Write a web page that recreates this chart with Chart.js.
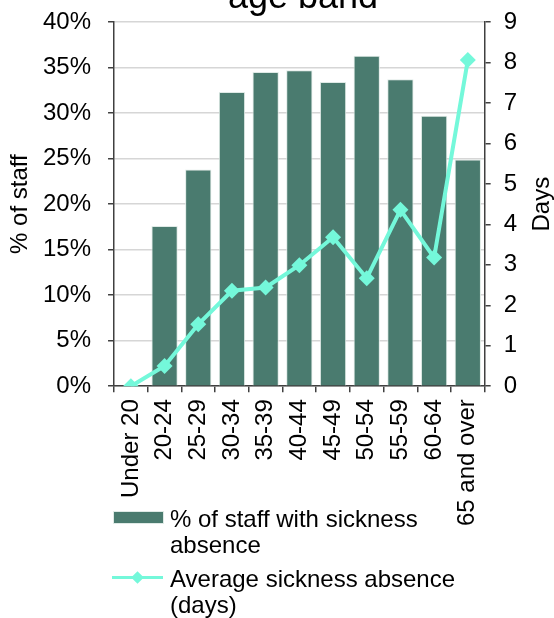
<!DOCTYPE html>
<html>
<head>
<meta charset="utf-8">
<script src="https://cdn.jsdelivr.net/npm/chart.js@4/dist/chart.umd.min.js"></script>
<style>
  body { margin: 0; background: #fff; }
  #wrap { position: relative; width: 554px; height: 618px; overflow: hidden; }
  #legend { position: absolute; left: 0; top: 0; font-family: "Liberation Sans", Arial, sans-serif; font-size: 24px; color: #000; }
  .item { position: absolute; left: 170px; line-height: 26px; white-space: nowrap; }
  .box { position: absolute; left: 113px; width: 49px; height: 11px; background: #4a7b6f; border: 1px solid #dfeae6; }
  .lin { position: absolute; left: 112px; width: 51px; height: 3px; background: #74f8da; }
  .dia { position: absolute; width: 9px; height: 9px; background: #74f8da; transform: rotate(45deg); }
</style>
</head>
<body>
<div id="wrap">
  <canvas id="chart" width="554" height="618"></canvas>
  <div id="legend">
    <div class="box" style="top:511px"></div>
    <div class="item" style="top:506px">% of staff with sickness<br>absence</div>
    <div class="lin" style="top:576px"></div>
    <div class="dia" style="left:133px; top:573px"></div>
    <div class="item" style="top:566px">Average sickness absence<br>(days)</div>
  </div>
</div>
<script>
const ageBands = ["Under 20", "20-24", "25-29", "30-34", "35-39", "40-44", "45-49", "50-54", "55-59", "60-64", "65 and over"];
const pctStaff = [0, 17.6, 23.8, 32.3, 34.5, 34.7, 33.4, 36.3, 33.7, 29.7, 24.9];
const avgDays = [0, 0.5, 1.53, 2.36, 2.44, 2.99, 3.68, 2.67, 4.36, 3.18, 8.06];
const leftTicks = [0, 5, 10, 15, 20, 25, 30, 35, 40];
const rightTicks = [0, 1, 2, 3, 4, 5, 6, 7, 8, 9];

const FONT = "Liberation Sans, Arial, sans-serif";
const AXIS = "#404040";

// title (cut off at the top) and the two axis titles
let extraText = {
    id: 'extraText',
    afterDraw(c) {
        let ctx = c.ctx;
        let a = c.chartArea;
        ctx.save();
        ctx.fillStyle = "#000";
        ctx.textAlign = "center";
        ctx.textBaseline = "alphabetic";
        ctx.font = "36px " + FONT;
        ctx.fillText("age band", 303, 8);

        ctx.font = "24px " + FONT;
        ctx.textBaseline = "middle";
        let mid = (a.top + a.bottom) / 2;
        ctx.save();
        ctx.translate(20, mid);
        ctx.rotate(-Math.PI / 2);
        ctx.fillText("% of staff", 0, 0);
        ctx.restore();
        ctx.save();
        ctx.translate(542, mid);
        ctx.rotate(-Math.PI / 2);
        ctx.fillText("Days", 0, 0);
        ctx.restore();
        ctx.restore();
    }
};

// let the top tick labels hang above the plot like the original
let noEdgePad = s => { s.paddingTop = 0; s.paddingBottom = 0; };

let chart = new Chart('chart', {
    type: 'bar',
    data: {
        labels: ageBands,
        datasets: [{
            type: 'line',
            label: "Average sickness absence (days)",
            data: avgDays,
            yAxisID: 'y1',
            borderColor: "#74f8da",
            backgroundColor: "#74f8da",
            borderWidth: 4,
            pointStyle: 'rectRot',
            pointRadius: 8,
            pointBorderWidth: 0,
            tension: 0,
            order: 0
        }, {
            label: "% of staff with sickness absence",
            data: pctStaff,
            yAxisID: 'y',
            backgroundColor: "#4a7b6f",
            borderColor: "#dfeae6",
            borderWidth: 1,
            barPercentage: 0.78,
            categoryPercentage: 1,
            order: 1
        }]
    },
    options: {
        responsive: false,
        animation: false,
        layout: { padding: { left: 26, right: 24, top: 22, bottom: 85 } },
        plugins: {
            legend: { display: false },
            title: { display: false },
            tooltip: { enabled: false }
        },
        scales: {
            x: {
                grid: { offset: true, drawOnChartArea: false, tickLength: 6, tickColor: AXIS, lineWidth: 1.5 },
                border: { color: AXIS, width: 1.5 },
                ticks: {
                    color: "#000", font: { family: FONT, size: 24 },
                    minRotation: 90, maxRotation: 90, autoSkip: false, padding: 7
                }
            },
            y: {
                position: 'left',
                min: 0, max: 40,
                afterBuildTicks: s => { s.ticks = leftTicks.map(v => ({ value: v })); },
                afterFit: noEdgePad,
                grid: { color: "#d6d6d6", lineWidth: 1.5, tickLength: 6, tickColor: AXIS },
                border: { color: AXIS, width: 1.5 },
                ticks: { color: "#000", font: { family: FONT, size: 24 }, padding: 17, callback: v => v + "%" }
            },
            y1: {
                position: 'right',
                min: 0, max: 9,
                afterBuildTicks: s => { s.ticks = rightTicks.map(v => ({ value: v })); },
                afterFit: noEdgePad,
                grid: { drawOnChartArea: false, tickLength: 6, tickColor: AXIS, lineWidth: 1.5 },
                border: { color: AXIS, width: 1.5 },
                ticks: { color: "#000", font: { family: FONT, size: 24 }, padding: 13 }
            }
        }
    },
    plugins: [extraText]
});
</script>
</body>
</html>
